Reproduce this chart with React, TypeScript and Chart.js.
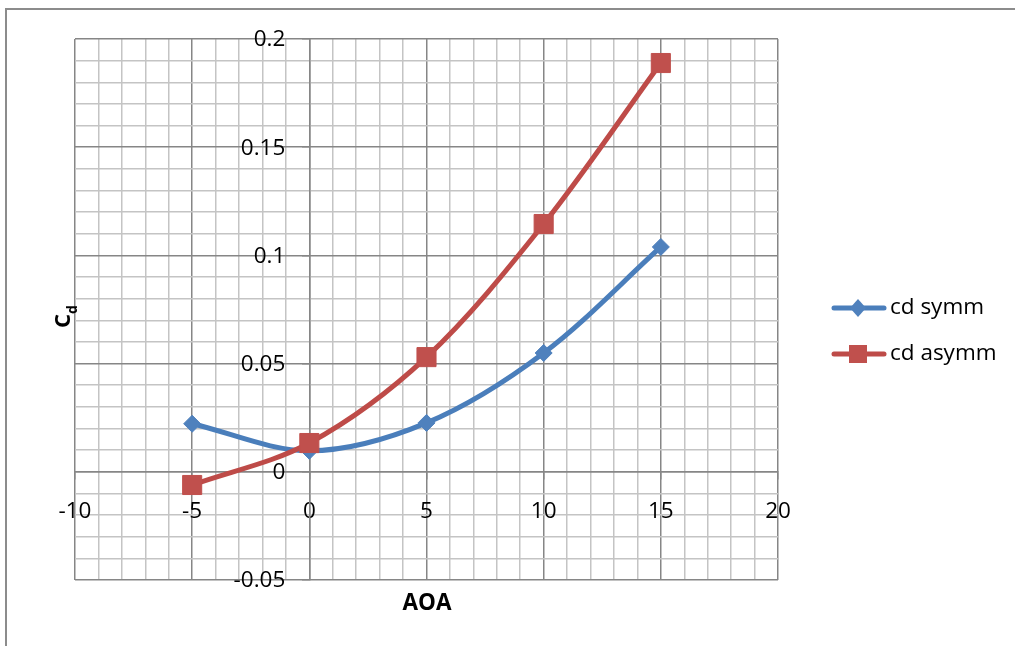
import { useEffect, useRef } from 'react';
import { Chart, registerables } from 'chart.js';

Chart.register(...registerables);

// Angle of attack (deg) and drag coefficients for the two sections
const aoa = [-5, 0, 5, 10, 15];
const cdSymm = [0.0222, 0.0097, 0.0226, 0.0549, 0.1039];
const cdAsymm = [-0.0061, 0.0133, 0.053, 0.1145, 0.1889];
const seriesNames = ['cd symm', 'cd asymm'];

// Labelled (major) ticks; the unlabelled steps in between are minor grid lines
const xTickLabels = ['-10', '-5', '0', '5', '10', '15', '20'];
const yTickLabels = ['-0.05', '0', '0.05', '0.1', '0.15', '0.2'];
const xTitle = 'AOA';
const yTitleMain = 'C';
const yTitleSub = 'd';

const FONT = '"Open Sans", "Liberation Sans", sans-serif';
const FONT_SIZE = 22.5;
const BLUE_LINE = '#4a7ebb';
const BLUE_MARK = '#4f81bd';
const RED_LINE = '#be4b48';
const RED_MARK = '#c0504d';
const MAJOR = '#868686';
const MINOR = '#c4c4c4';

const findLabel = (labels: string[], v: number) =>
  labels.find((l) => Math.abs(Number(l) - v) < 1e-9);

const xMajor = (v: number) => findLabel(xTickLabels, v) !== undefined;
const yMajor = (v: number) => findLabel(yTickLabels, v) !== undefined;

const decorations = {
  id: 'decorations',
  beforeDraw(chart: any) {
    const { ctx, width, height } = chart;
    ctx.save();
    ctx.fillStyle = '#ffffff';
    ctx.fillRect(0, 0, width, height);
    ctx.strokeStyle = '#8c8c8c';
    ctx.lineWidth = 2;
    ctx.beginPath();
    ctx.moveTo(6, height + 2);
    ctx.lineTo(6, 9);
    ctx.lineTo(width + 2, 9);
    ctx.stroke();
    ctx.restore();
  },
  afterDraw(chart: any) {
    const { ctx } = chart;
    const xs = chart.scales.x;
    const ys = chart.scales.y;
    ctx.save();
    ctx.fillStyle = '#000000';

    // value labels of the y axis, placed left of the axis line at x = 0
    ctx.font = `${FONT_SIZE}px ${FONT}`;
    ctx.textAlign = 'right';
    ctx.textBaseline = 'middle';
    const axisX = xs.getPixelForValue(0);
    yTickLabels.forEach((l) => {
      ctx.fillText(l, axisX - 24, ys.getPixelForValue(Number(l)) + 1);
    });

    // x axis title
    ctx.font = `bold ${FONT_SIZE}px ${FONT}`;
    ctx.textAlign = 'center';
    ctx.textBaseline = 'middle';
    ctx.fillText(xTitle, 427, 604);

    // y axis title, rotated, with subscript
    ctx.save();
    ctx.translate(70, 328);
    ctx.rotate(-Math.PI / 2);
    ctx.textAlign = 'left';
    ctx.textBaseline = 'alphabetic';
    ctx.font = `bold 22px ${FONT}`;
    ctx.fillText(yTitleMain, 0, 0);
    const w = ctx.measureText(yTitleMain).width;
    ctx.font = `bold 14px ${FONT}`;
    ctx.fillText(yTitleSub, w, 7);
    ctx.restore();

    // legend
    const items = [
      { name: seriesNames[0], line: BLUE_LINE, mark: BLUE_MARK, shape: 'diamond', y: 308 },
      { name: seriesNames[1], line: RED_LINE, mark: RED_MARK, shape: 'square', y: 354 },
    ];
    items.forEach((it) => {
      ctx.strokeStyle = it.line;
      ctx.lineWidth = 5;
      ctx.lineCap = 'round';
      ctx.beginPath();
      ctx.moveTo(834, it.y);
      ctx.lineTo(884, it.y);
      ctx.stroke();
      ctx.fillStyle = it.mark;
      ctx.beginPath();
      if (it.shape === 'diamond') {
        ctx.moveTo(858, it.y - 9);
        ctx.lineTo(866, it.y);
        ctx.lineTo(858, it.y + 9);
        ctx.lineTo(850, it.y);
        ctx.closePath();
      } else {
        ctx.rect(849, it.y - 9, 18, 18);
      }
      ctx.fill();
      ctx.fillStyle = '#000000';
      ctx.font = `${FONT_SIZE}px ${FONT}`;
      ctx.textAlign = 'left';
      ctx.textBaseline = 'middle';
      ctx.fillText(it.name, 890, it.y);
    });
    ctx.restore();
  },
};

export default function App() {
  const canvasRef = useRef<HTMLCanvasElement | null>(null);

  useEffect(() => {
    if (!canvasRef.current) return;
    const chart = new Chart(canvasRef.current, {
      type: 'scatter',
      data: {
        datasets: [
          {
            label: seriesNames[0],
            data: aoa.map((x, i) => ({ x, y: cdSymm[i] })),
            showLine: true,
            tension: 0.33,
            borderColor: BLUE_LINE,
            borderWidth: 5,
            pointStyle: 'rectRot',
            pointRadius: 8.5,
            pointBackgroundColor: BLUE_MARK,
            pointBorderColor: BLUE_MARK,
            pointBorderWidth: 1,
            order: 1,
          },
          {
            label: seriesNames[1],
            data: aoa.map((x, i) => ({ x, y: cdAsymm[i] })),
            showLine: true,
            tension: 0.33,
            borderColor: RED_LINE,
            borderWidth: 5,
            pointStyle: 'rect',
            pointRadius: 13.5,
            pointBackgroundColor: RED_MARK,
            pointBorderColor: RED_MARK,
            pointBorderWidth: 1,
            order: 0,
          },
        ],
      },
      options: {
        animation: false,
        responsive: false,
        layout: { padding: { left: 75, top: 39, right: 237, bottom: 66 } },
        plugins: { legend: { display: false }, tooltip: { enabled: false } },
        scales: {
          x: {
            type: 'linear',
            position: { y: 0 } as any,
            min: -10,
            max: 20,
            ticks: {
              stepSize: 1,
              autoSkip: false,
              maxRotation: 0,
              maxTicksLimit: 100,
              padding: 19,
              color: '#000000',
              font: { family: FONT, size: FONT_SIZE },
              callback: (v: any) => findLabel(xTickLabels, Number(v)) ?? '',
            },
            grid: {
              color: (c: any) => (xMajor(c.tick?.value) ? MAJOR : MINOR),
              lineWidth: 1.5,
              tickLength: 7,
              tickColor: (c: any) => (xMajor(c.tick?.value) ? MAJOR : 'rgba(0,0,0,0)'),
            },
            border: { display: true, color: MAJOR, width: 1.5 },
          },
          y: {
            type: 'linear',
            position: { x: 0 } as any,
            min: -0.05,
            max: 0.2,
            ticks: {
              display: false,
              stepSize: 0.01,
              autoSkip: false,
              maxTicksLimit: 100,
            },
            grid: {
              color: (c: any) => (yMajor(c.tick?.value) ? MAJOR : MINOR),
              lineWidth: 1.5,
              tickLength: 7,
              tickColor: (c: any) => (yMajor(c.tick?.value) ? MAJOR : 'rgba(0,0,0,0)'),
            },
            border: { display: true, color: MAJOR, width: 1.5 },
          },
        },
      },
      plugins: [decorations],
    });
    return () => chart.destroy();
  }, []);

  return (
    <div style={{ position: 'fixed', left: 0, top: 0, width: 1015, height: 646, background: '#ffffff' }}>
      <canvas ref={canvasRef} width={1015} height={646} style={{ display: 'block' }} />
    </div>
  );
}
